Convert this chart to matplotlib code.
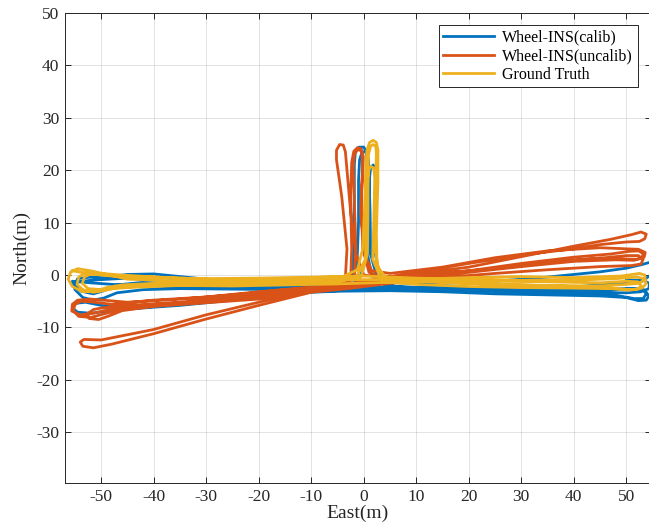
import matplotlib
matplotlib.use("Agg")
import matplotlib.pyplot as plt

plt.rcParams['font.family'] = ['Liberation Serif', 'DejaVu Serif']
plt.rcParams['axes.unicode_minus'] = False

# ground truth trajectory (East, North) in metres
gt_x = [-55.5, -52, -45, -40, -30, -20, -10, -4, -1.2,
        -0.2, 0.2, 0.4, 0.6, 1.1, 1.8, 2.4, 2.7, 2.7, 2.4, 2.5, 4,
        10, 20, 30, 40, 47, 51, 53, 53.8, 53.4, 52, 48,
        40, 30, 20, 10, 0, -10, -20, -30, -40, -46, -49, -51, -53.5, -55.5, -56.3, -55.8, -54.5, -52,
        -45, -35, -25, -15, -6, -1.5,
        0.3, 0.6, 0.8, 0.9, 1.3, 1.8, 2.3, 2.4, 2.2, 2.0, 2.8, 5,
        15, 25, 35, 45, 50, 52.3, 53.6, 53.5, 52.5, 49,
        40, 30, 20, 10, 0, -10, -20, -30, -40, -47, -49.5, -51.5, -53.5, -54.6, -54.3, -53, -50,
        -45, -35, -25, -15, -5, -0.5,
        0.7, 0.8, 0.8, 1.0, 1.4, 1.9, 2.1, 1.9, 1.7, 3.5,
        10, 20, 30, 40, 47, 50.5, 52.3, 52.8, 52.2, 50,
        45, 35, 25, 15, 5, -5, -15, -25, -35, -45, -50, -52.5, -53.6, -53.2, -52, -48, -40]
gt_y = [0.8, 0.2, -0.3, -0.5, -0.7, -0.6, -0.4, -0.3, 1,
        5, 14, 21, 23.8, 25.3, 25.7, 25.3, 23.8, 18, 8, 2, -0.6,
        -1.1, -1.6, -1.9, -2.2, -2.5, -2.8, -2.5, -1.6, -0.7, -0.4, -0.7,
        -1.0, -1.0, -0.9, -0.6, -0.2, -0.5, -1.0, -1.3, -1.6, -1.9, -2.4, -3.1, -3.2, -2.2, -0.8, 0.6, 1.2, 0.8,
        -0.8, -1.2, -1.4, -1.2, -1.0, -0.5,
        3, 12, 19, 23, 24.6, 24.9, 24.5, 23, 16, 6, 1, -1.0,
        -1.4, -1.8, -2.0, -2.1, -1.8, -1.6, -0.9, 0.0, 0.3, -0.2,
        -0.5, -0.3, -0.5, -0.8, -0.9, -1.0, -1.5, -1.8, -2.0, -2.4, -3.0, -3.3, -2.8, -1.8, -0.4, 0.4, 0.3,
        -0.1, -0.6, -1.0, -1.5, -1.3, -0.3,
        4, 12, 18.5, 20.2, 20.7, 20.4, 18.5, 10, 3, -1.3,
        -1.8, -2.2, -2.4, -2.5, -2.6, -2.9, -2.7, -2.0, -1.3, -1.2,
        -1.5, -1.3, -1.2, -1.1, -1.4, -1.7, -1.9, -2.1, -2.0, -2.4, -2.8, -2.6, -1.6, -0.4, 0.2, -0.2, -0.3]

# Wheel-INS with calibration
calib_x = [-55, -52, -45, -40, -30, -20, -10, -4, -2.2,
           -2, -1.8, -1.8, -1.6, -0.9, 0, 0.5, 0.6, 0.4, 0.5, 1.5, 4,
           10, 20, 30, 40, 48, 51.5, 53.2, 53.8, 53.2, 51,
           45, 35, 25, 15, 5, -5, -15, -25, -35, -42, -47, -49.5, -51.5, -53.5, -55, -55.5,
           -52, -45, -35, -25, -15, -6, -1,
           0.8, 1.0, 1.1, 1.3, 1.8, 2.2, 2.2, 2.0, 3, 6,
           15, 25, 35, 45, 50, 53, 55.5, 56, 56, 53, 48,
           40, 30, 20, 10, 0, -10, -20, -30, -40, -48, -52, -54.5, -55.5, -54.8, -53, -50,
           -45, -35, -25, -15, -5, 5, 15, 25, 35, 45, 50, 52.3, 53.8, 54.3, 53.5, 51.5,
           45, 35, 25, 15, 5, -5, -15, -25, -35, -42, -47, -49.5, -51.5, -53.8, -55, -54.5, -52, -50,
           -45, -40, -35, -30, -20, -10, -3,
           -1.3, -1.0, -1.0, -0.8, -0.3, 0.4, 0.9, 1.2, 1.3, 2.5, 6,
           15, 25, 35, 45, 50, 52.8, 54.3, 54.4, 53.2, 50]
calib_y = [-1.4, -1.0, -0.6, -0.4, -1.1, -1.6, -1.9, -1.8, 0,
           5, 14, 21, 23.5, 24.4, 24.4, 23.5, 21, 14, 5, 0, -2.0,
           -2.6, -2.9, -3.2, -3.5, -3.9, -4.5, -4.5, -3.6, -2.8, -2.6,
           -2.7, -2.6, -2.5, -2.4, -2.3, -2.6, -2.8, -2.7, -2.6, -2.8, -3.4, -4.4, -4.8, -4.3, -2.8, -1.2,
           -1.5, -2.0, -2.2, -2.3, -2.5, -2.7, -1.2,
           4, 12, 18.5, 20.5, 21, 20.3, 14, 5, 0, -1.5,
           -1.6, -1.2, -0.4, 0.6, 1.3, 2.0, 2.7, 2.6, 1.0, -1.2, -1.6,
           -2.3, -2.6, -2.6, -2.7, -2.8, -3.2, -4.2, -5.2, -6.0, -6.8, -7.3, -7.1, -6.3, -5.4, -5.2, -5.8,
           -6.5, -5.8, -4.8, -3.5, -3.1, -3.0, -3.2, -3.6, -3.8, -4.0, -4.3, -4.9, -4.8, -4.0, -2.9, -2.6,
           -3.0, -3.0, -2.8, -2.6, -2.5, -2.4, -2.3, -2.0, -1.7, -1.4, -1.9, -3.0, -3.6, -3.1, -1.8, -0.7, -0.4, -0.5,
           0.1, 0.2, -0.3, -0.8, -1.3, -1.6, -1.5,
           2, 10, 18, 22, 23.5, 23.5, 22, 12, 4, -0.5, -2.2,
           -2.6, -3.0, -3.3, -3.4, -3.4, -3.2, -2.6, -1.6, -1.0, -1.0]

# Wheel-INS without calibration
uncalib_x = [-53, -48, -40, -30, -20, -10, -5,
             -3.5, -3.2, -4.2, -5.2, -5.2, -4.6, -3.9, -3.5, -3.2, -2.5, -1.5, 0, 4,
             10, 20, 30, 40, 47, 51, 52.8, 53.8, 53.5, 52.5, 50,
             45, 40, 30, 20, 10, 0, -10, -20, -30, -40, -48, -51.5, -54, -55.6, -55.5, -54.5, -52,
             -45, -35, -25, -15, -6, -2.5,
             -2.3, -2.5, -2.3, -1.9, -1.2, -0.5, -0.1, -0.3, -0.5, -0.2, 1, 3,
             10, 20, 30, 40, 47, 50.5, 52.3, 53.2, 53, 51.5, 48,
             40, 30, 20, 10, 0, -10, -20, -30, -40, -46, -48.5, -50.5, -52.3, -52.6, -51.5, -50,
             -45, -35, -25, -15, -5, 5, 15, 25, 35, 45, 50, 52.3, 53.2, 52.8, 51,
             45, 35, 25, 15, 5, -3, -10, -20, -30, -40, -48, -51.5, -53.5, -54, -53.3,
             -50, -40, -30, -20, -10, -4,
             -1.8, -1.5, -1.8, -2.0, -1.8, -1.1, -0.4, -0.2, -0.6, 0.2, 1.5, 5,
             15, 25, 35, 45, 50, 52.3, 53.6, 53.4, 52,
             45, 35, 25, 15, 5, -5, -15, -25, -35, -45, -49, -52, -54.3, -55.3, -55, -53.8, -52]
uncalib_y = [-5, -5.6, -4.8, -4.2, -3.2, -2.3, -2,
             -0.5, 5, 15, 22, 23.8, 24.9, 24.8, 23.5, 20, 12, 4, 0, -0.5,
             0.2, 1.5, 3.5, 5.5, 6.8, 7.7, 8.2, 7.8, 6.9, 6.4, 6.3,
             5.8, 5.0, 3.8, 2.2, 0.5, -1.2, -2.8, -4.0, -5.0, -5.6, -6.5, -7.3, -7.6, -6.9, -5.6, -4.8, -4.6,
             -5.2, -4.6, -3.8, -2.8, -2.3, -1,
             5, 15, 21.5, 23.6, 24.3, 24.1, 22.5, 18, 14, 5, 0.5, -0.3,
             -0.2, 0.8, 2.2, 3.4, 4.0, 4.5, 4.6, 4.1, 3.3, 2.8, 2.9,
             2.6, 1.6, 0.5, -0.7, -1.8, -3.0, -4.6, -5.3, -6.0, -6.8, -7.8, -8.5, -8.3, -7.4, -6.6, -6.3,
             -5.8, -5.2, -4.2, -3.2, -2.2, -0.7, 0.4, 1.2, 2.3, 3.2, 3.7, 3.7, 3.0, 2.1, 1.8,
             1.6, 1.0, 0.3, -0.5, -1.6, -2.6, -3.3, -5.8, -8.4, -11.2, -13.2, -13.9, -13.6, -12.8, -12.3,
             -12.4, -10.4, -7.6, -5.2, -2.9, -2.0,
             -0.5, 5, 14, 20.5, 23, 24, 23.6, 21, 12, 4, 0.8, 0.3,
             1.5, 3.3, 4.6, 5.2, 5.0, 4.9, 4.3, 3.4, 3.0,
             3.2, 2.5, 1.3, 0.1, -1.0, -2.5, -3.6, -4.6, -5.5, -6.3, -7.3, -8.1, -7.9, -6.8, -5.6, -5.0, -5]

x_ticks = [-50, -40, -30, -20, -10, 0, 10, 20, 30, 40, 50]
y_ticks = [-30, -20, -10, 0, 10, 20, 30, 40, 50]

c_calib = '#0072BD'
c_uncalib = '#D95319'
c_gt = '#EDB120'
ink = '#262626'

fig = plt.figure(figsize=(6.49, 5.27), dpi=100)
ax = fig.add_axes([65 / 649, 44 / 527, 586 / 649, 470 / 527])

ax.plot(calib_x, calib_y, color=c_calib, lw=2.0, label='Wheel-INS(calib)', solid_joinstyle='round')
ax.plot(uncalib_x, uncalib_y, color=c_uncalib, lw=2.0, label='Wheel-INS(uncalib)', solid_joinstyle='round')
ax.plot(gt_x, gt_y, color=c_gt, lw=2.0, label='Ground Truth', solid_joinstyle='round')

ax.set_xlim(-56.9, 54.7)
ax.set_ylim(-39.7, 50)
ax.set_xticks(x_ticks)
ax.set_yticks(y_ticks)
ax.grid(True, color=ink, alpha=0.15, lw=0.6)
ax.tick_params(direction='in', length=4.5, width=0.7, top=True, right=True,
               labelsize=12.5, colors=ink, pad=4)
for s in ax.spines.values():
    s.set_color(ink)
    s.set_linewidth(0.7)

ax.set_xlabel('East(m)', fontsize=14, color=ink, labelpad=0)
ax.set_ylabel('North(m)', fontsize=14, color=ink, labelpad=4)

leg = ax.legend(loc='upper right', bbox_to_anchor=(638 / 649, 1 - 25 / 527),
                bbox_transform=fig.transFigure, fontsize=11.5, fancybox=False,
                framealpha=1, edgecolor=ink, handlelength=3.2, borderpad=0.3,
                labelspacing=0.15, handletextpad=0.5, borderaxespad=0)
leg.get_frame().set_linewidth(0.7)

fig.savefig('out.png', dpi=100)
